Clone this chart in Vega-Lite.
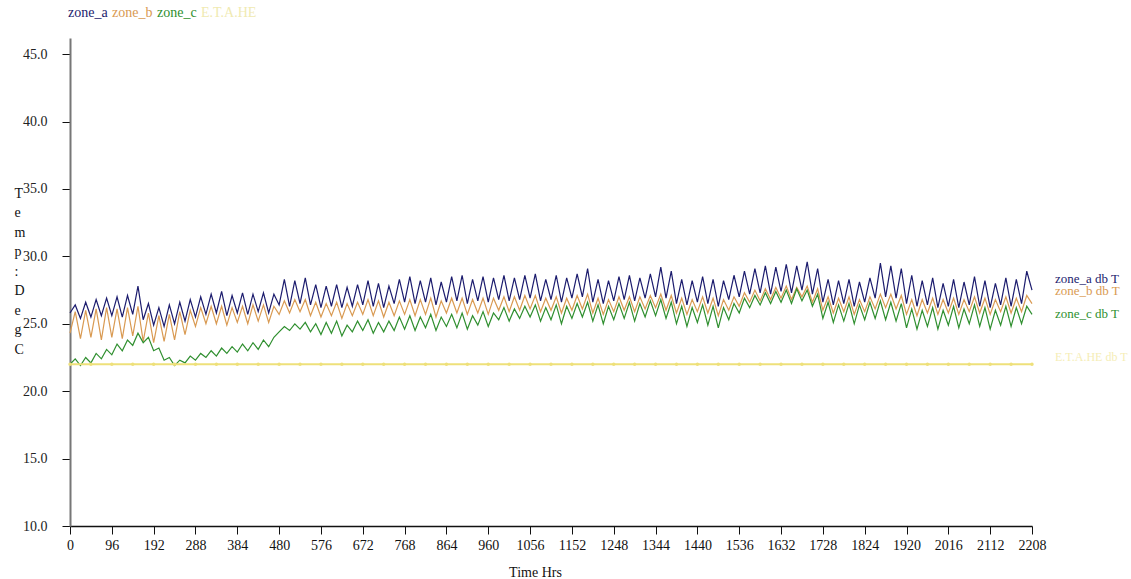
{
"$schema": "https://vega.github.io/schema/vega-lite/v6.json",
"width": 962, "height": 488,
"autosize": {"type": "none"},
"padding": {"left": 70, "top": 38, "right": 99, "bottom": 53},
"background": "white",
"config": {"view": {"stroke": null}, "font": "Liberation Serif"},
"datasets": {
"zones": [
{"t":0,"zone_a":25.8,"zone_b":24.3,"zone_c":22.0},{"t":12,"zone_a":26.4,"zone_b":25.9,"zone_c":22.4},
{"t":24,"zone_a":25.4,"zone_b":23.9,"zone_c":21.9},{"t":36,"zone_a":26.6,"zone_b":26.0,"zone_c":22.5},
{"t":48,"zone_a":25.5,"zone_b":24.0,"zone_c":22.1},{"t":60,"zone_a":26.8,"zone_b":26.1,"zone_c":22.8},
{"t":72,"zone_a":25.6,"zone_b":23.8,"zone_c":22.4},{"t":84,"zone_a":26.9,"zone_b":26.2,"zone_c":23.1},
{"t":96,"zone_a":25.6,"zone_b":24.0,"zone_c":22.7},{"t":108,"zone_a":27.0,"zone_b":26.1,"zone_c":23.5},
{"t":120,"zone_a":25.5,"zone_b":23.9,"zone_c":23.0},{"t":132,"zone_a":27.1,"zone_b":26.2,"zone_c":23.8},
{"t":144,"zone_a":25.7,"zone_b":24.1,"zone_c":23.4},{"t":156,"zone_a":27.8,"zone_b":26.3,"zone_c":24.3},
{"t":168,"zone_a":25.3,"zone_b":23.7,"zone_c":23.6},{"t":180,"zone_a":26.5,"zone_b":25.8,"zone_c":24.0},
{"t":192,"zone_a":24.9,"zone_b":23.6,"zone_c":23.0},{"t":204,"zone_a":26.2,"zone_b":25.6,"zone_c":23.2},
{"t":216,"zone_a":24.8,"zone_b":23.7,"zone_c":22.3},{"t":228,"zone_a":26.4,"zone_b":25.7,"zone_c":22.5},
{"t":240,"zone_a":25.0,"zone_b":23.8,"zone_c":21.9},{"t":252,"zone_a":26.6,"zone_b":25.9,"zone_c":22.3},
{"t":264,"zone_a":25.2,"zone_b":24.2,"zone_c":22.1},{"t":276,"zone_a":26.8,"zone_b":26.0,"zone_c":22.6},
{"t":288,"zone_a":25.5,"zone_b":24.8,"zone_c":22.3},{"t":300,"zone_a":27.0,"zone_b":26.2,"zone_c":22.8},
{"t":312,"zone_a":25.7,"zone_b":25.0,"zone_c":22.5},{"t":324,"zone_a":27.2,"zone_b":26.3,"zone_c":23.0},
{"t":336,"zone_a":25.8,"zone_b":25.0,"zone_c":22.6},{"t":348,"zone_a":27.4,"zone_b":26.3,"zone_c":23.2},
{"t":360,"zone_a":25.6,"zone_b":24.9,"zone_c":22.8},{"t":372,"zone_a":27.1,"zone_b":26.2,"zone_c":23.3},
{"t":384,"zone_a":25.8,"zone_b":25.1,"zone_c":22.9},{"t":396,"zone_a":27.3,"zone_b":26.3,"zone_c":23.5},
{"t":408,"zone_a":25.7,"zone_b":25.0,"zone_c":23.0},{"t":420,"zone_a":27.2,"zone_b":26.4,"zone_c":23.6},
{"t":432,"zone_a":25.9,"zone_b":25.2,"zone_c":23.1},{"t":444,"zone_a":27.3,"zone_b":26.4,"zone_c":23.8},
{"t":456,"zone_a":25.8,"zone_b":25.1,"zone_c":23.3},{"t":468,"zone_a":27.2,"zone_b":26.3,"zone_c":24.0},
{"t":480,"zone_a":26.4,"zone_b":25.7,"zone_c":24.4},{"t":492,"zone_a":28.3,"zone_b":26.7,"zone_c":24.8},
{"t":504,"zone_a":26.3,"zone_b":25.8,"zone_c":24.5},{"t":516,"zone_a":28.2,"zone_b":26.8,"zone_c":25.0},
{"t":528,"zone_a":26.5,"zone_b":25.9,"zone_c":24.6},{"t":540,"zone_a":28.4,"zone_b":26.8,"zone_c":25.1},
{"t":552,"zone_a":26.4,"zone_b":25.6,"zone_c":24.4},{"t":564,"zone_a":27.9,"zone_b":26.6,"zone_c":25.0},
{"t":576,"zone_a":26.2,"zone_b":25.5,"zone_c":24.2},{"t":588,"zone_a":27.8,"zone_b":26.5,"zone_c":25.1},
{"t":600,"zone_a":26.3,"zone_b":25.6,"zone_c":24.3},{"t":612,"zone_a":27.9,"zone_b":26.6,"zone_c":25.2},
{"t":624,"zone_a":26.2,"zone_b":25.4,"zone_c":24.1},{"t":636,"zone_a":27.7,"zone_b":26.5,"zone_c":24.9},
{"t":648,"zone_a":26.3,"zone_b":25.6,"zone_c":24.4},{"t":660,"zone_a":27.9,"zone_b":26.6,"zone_c":25.2},
{"t":672,"zone_a":26.4,"zone_b":25.7,"zone_c":24.5},{"t":684,"zone_a":28.2,"zone_b":26.8,"zone_c":25.3},
{"t":696,"zone_a":26.3,"zone_b":25.6,"zone_c":24.3},{"t":708,"zone_a":28.0,"zone_b":26.7,"zone_c":25.1},
{"t":720,"zone_a":26.2,"zone_b":25.5,"zone_c":24.4},{"t":732,"zone_a":27.8,"zone_b":26.6,"zone_c":25.2},
{"t":744,"zone_a":26.5,"zone_b":25.6,"zone_c":24.5},{"t":756,"zone_a":28.3,"zone_b":26.7,"zone_c":25.5},
{"t":768,"zone_a":26.6,"zone_b":25.7,"zone_c":24.6},{"t":780,"zone_a":28.5,"zone_b":26.8,"zone_c":25.6},
{"t":792,"zone_a":26.5,"zone_b":25.6,"zone_c":24.5},{"t":804,"zone_a":28.2,"zone_b":26.8,"zone_c":25.5},
{"t":816,"zone_a":26.6,"zone_b":25.7,"zone_c":24.7},{"t":828,"zone_a":28.4,"zone_b":26.9,"zone_c":25.7},
{"t":840,"zone_a":26.4,"zone_b":25.5,"zone_c":24.5},{"t":852,"zone_a":28.1,"zone_b":26.7,"zone_c":25.5},
{"t":864,"zone_a":26.6,"zone_b":25.8,"zone_c":24.8},{"t":876,"zone_a":28.5,"zone_b":26.9,"zone_c":25.7},
{"t":888,"zone_a":26.7,"zone_b":25.8,"zone_c":24.7},{"t":900,"zone_a":28.6,"zone_b":26.9,"zone_c":25.8},
{"t":912,"zone_a":26.5,"zone_b":25.7,"zone_c":24.6},{"t":924,"zone_a":28.3,"zone_b":26.8,"zone_c":25.6},
{"t":936,"zone_a":26.7,"zone_b":25.8,"zone_c":24.9},{"t":948,"zone_a":28.5,"zone_b":26.9,"zone_c":25.9},
{"t":960,"zone_a":26.6,"zone_b":25.7,"zone_c":24.8},{"t":972,"zone_a":28.4,"zone_b":26.9,"zone_c":25.8},
{"t":984,"zone_a":26.8,"zone_b":26.0,"zone_c":25.3},{"t":996,"zone_a":28.6,"zone_b":27.0,"zone_c":26.2},
{"t":1008,"zone_a":26.7,"zone_b":25.9,"zone_c":25.2},{"t":1020,"zone_a":28.4,"zone_b":27.0,"zone_c":26.1},
{"t":1032,"zone_a":26.8,"zone_b":26.0,"zone_c":25.4},{"t":1044,"zone_a":28.6,"zone_b":27.1,"zone_c":26.3},
{"t":1056,"zone_a":26.9,"zone_b":26.1,"zone_c":25.5},{"t":1068,"zone_a":28.7,"zone_b":27.1,"zone_c":26.4},
{"t":1080,"zone_a":26.7,"zone_b":25.9,"zone_c":25.2},{"t":1092,"zone_a":28.3,"zone_b":26.9,"zone_c":26.2},
{"t":1104,"zone_a":26.8,"zone_b":26.0,"zone_c":25.3},{"t":1116,"zone_a":28.6,"zone_b":27.0,"zone_c":26.4},
{"t":1128,"zone_a":26.6,"zone_b":25.8,"zone_c":25.0},{"t":1140,"zone_a":28.4,"zone_b":26.9,"zone_c":26.3},
{"t":1152,"zone_a":26.9,"zone_b":26.0,"zone_c":25.4},{"t":1164,"zone_a":28.7,"zone_b":27.1,"zone_c":26.5},
{"t":1176,"zone_a":27.0,"zone_b":26.1,"zone_c":25.5},{"t":1188,"zone_a":29.1,"zone_b":27.2,"zone_c":26.6},
{"t":1200,"zone_a":26.6,"zone_b":25.8,"zone_c":25.2},{"t":1212,"zone_a":28.3,"zone_b":26.9,"zone_c":26.4},
{"t":1224,"zone_a":26.5,"zone_b":25.7,"zone_c":25.0},{"t":1236,"zone_a":28.2,"zone_b":26.8,"zone_c":26.3},
{"t":1248,"zone_a":26.7,"zone_b":25.9,"zone_c":25.3},{"t":1260,"zone_a":28.5,"zone_b":27.0,"zone_c":26.5},
{"t":1272,"zone_a":26.8,"zone_b":26.0,"zone_c":25.4},{"t":1284,"zone_a":28.6,"zone_b":27.0,"zone_c":26.6},
{"t":1296,"zone_a":26.7,"zone_b":25.9,"zone_c":25.2},{"t":1308,"zone_a":28.4,"zone_b":27.0,"zone_c":26.5},
{"t":1320,"zone_a":26.9,"zone_b":26.1,"zone_c":25.5},{"t":1332,"zone_a":28.7,"zone_b":27.1,"zone_c":26.7},
{"t":1344,"zone_a":27.0,"zone_b":26.2,"zone_c":25.6},{"t":1356,"zone_a":29.2,"zone_b":27.2,"zone_c":26.8},
{"t":1368,"zone_a":26.9,"zone_b":26.0,"zone_c":25.4},{"t":1380,"zone_a":28.9,"zone_b":27.1,"zone_c":26.6},
{"t":1392,"zone_a":26.5,"zone_b":25.8,"zone_c":25.0},{"t":1404,"zone_a":28.3,"zone_b":26.9,"zone_c":26.3},
{"t":1416,"zone_a":26.4,"zone_b":25.7,"zone_c":24.8},{"t":1428,"zone_a":28.2,"zone_b":26.8,"zone_c":26.2},
{"t":1440,"zone_a":26.6,"zone_b":25.9,"zone_c":25.1},{"t":1452,"zone_a":28.5,"zone_b":27.0,"zone_c":26.4},
{"t":1464,"zone_a":26.5,"zone_b":25.8,"zone_c":24.9},{"t":1476,"zone_a":28.3,"zone_b":26.9,"zone_c":26.3},
{"t":1488,"zone_a":26.3,"zone_b":25.6,"zone_c":24.7},{"t":1500,"zone_a":28.2,"zone_b":26.8,"zone_c":26.2},
{"t":1512,"zone_a":26.8,"zone_b":26.0,"zone_c":25.3},{"t":1524,"zone_a":28.6,"zone_b":27.0,"zone_c":26.5},
{"t":1536,"zone_a":27.0,"zone_b":26.3,"zone_c":25.8},{"t":1548,"zone_a":28.9,"zone_b":27.3,"zone_c":26.9},
{"t":1560,"zone_a":27.2,"zone_b":26.6,"zone_c":26.2},{"t":1572,"zone_a":29.1,"zone_b":27.5,"zone_c":27.1},
{"t":1584,"zone_a":27.3,"zone_b":26.7,"zone_c":26.4},{"t":1596,"zone_a":29.3,"zone_b":27.6,"zone_c":27.3},
{"t":1608,"zone_a":27.2,"zone_b":26.8,"zone_c":26.5},{"t":1620,"zone_a":29.2,"zone_b":27.7,"zone_c":27.4},
{"t":1632,"zone_a":27.4,"zone_b":26.9,"zone_c":26.6},{"t":1644,"zone_a":29.4,"zone_b":27.8,"zone_c":27.5},
{"t":1656,"zone_a":27.3,"zone_b":26.8,"zone_c":26.5},{"t":1668,"zone_a":29.3,"zone_b":27.7,"zone_c":27.6},
{"t":1680,"zone_a":27.5,"zone_b":27.0,"zone_c":26.7},{"t":1692,"zone_a":29.6,"zone_b":27.8,"zone_c":27.5},
{"t":1704,"zone_a":27.2,"zone_b":26.6,"zone_c":26.3},{"t":1716,"zone_a":29.1,"zone_b":27.6,"zone_c":27.2},
{"t":1728,"zone_a":26.6,"zone_b":26.0,"zone_c":25.4},{"t":1740,"zone_a":28.3,"zone_b":27.0,"zone_c":26.6},
{"t":1752,"zone_a":26.4,"zone_b":25.8,"zone_c":25.1},{"t":1764,"zone_a":28.2,"zone_b":26.9,"zone_c":26.4},
{"t":1776,"zone_a":26.5,"zone_b":25.9,"zone_c":25.2},{"t":1788,"zone_a":28.3,"zone_b":27.0,"zone_c":26.5},
{"t":1800,"zone_a":26.3,"zone_b":25.7,"zone_c":25.0},{"t":1812,"zone_a":28.1,"zone_b":26.8,"zone_c":26.4},
{"t":1824,"zone_a":26.6,"zone_b":25.9,"zone_c":25.3},{"t":1836,"zone_a":28.4,"zone_b":27.0,"zone_c":26.6},
{"t":1848,"zone_a":26.9,"zone_b":26.1,"zone_c":25.4},{"t":1860,"zone_a":29.5,"zone_b":27.2,"zone_c":26.7},
{"t":1872,"zone_a":27.0,"zone_b":26.2,"zone_c":25.3},{"t":1884,"zone_a":29.3,"zone_b":27.2,"zone_c":26.6},
{"t":1896,"zone_a":26.9,"zone_b":26.1,"zone_c":25.2},{"t":1908,"zone_a":29.1,"zone_b":27.1,"zone_c":26.5},
{"t":1920,"zone_a":26.5,"zone_b":25.7,"zone_c":24.7},{"t":1932,"zone_a":28.6,"zone_b":26.8,"zone_c":26.1},
{"t":1944,"zone_a":26.3,"zone_b":25.6,"zone_c":24.6},{"t":1956,"zone_a":28.2,"zone_b":26.8,"zone_c":26.0},
{"t":1968,"zone_a":26.4,"zone_b":25.8,"zone_c":24.8},{"t":1980,"zone_a":28.4,"zone_b":26.9,"zone_c":26.2},
{"t":1992,"zone_a":26.2,"zone_b":25.7,"zone_c":24.6},{"t":2004,"zone_a":28.0,"zone_b":26.8,"zone_c":26.0},
{"t":2016,"zone_a":26.3,"zone_b":25.8,"zone_c":24.9},{"t":2028,"zone_a":28.3,"zone_b":26.9,"zone_c":26.3},
{"t":2040,"zone_a":26.2,"zone_b":25.7,"zone_c":24.7},{"t":2052,"zone_a":28.1,"zone_b":26.8,"zone_c":26.1},
{"t":2064,"zone_a":26.4,"zone_b":25.9,"zone_c":25.0},{"t":2076,"zone_a":28.5,"zone_b":27.0,"zone_c":26.4},
{"t":2088,"zone_a":26.3,"zone_b":25.8,"zone_c":24.8},{"t":2100,"zone_a":28.2,"zone_b":26.9,"zone_c":26.2},
{"t":2112,"zone_a":26.2,"zone_b":25.7,"zone_c":24.6},{"t":2124,"zone_a":28.0,"zone_b":26.8,"zone_c":26.0},
{"t":2136,"zone_a":26.4,"zone_b":25.9,"zone_c":24.9},{"t":2148,"zone_a":28.4,"zone_b":27.0,"zone_c":26.3},
{"t":2160,"zone_a":26.3,"zone_b":25.8,"zone_c":24.8},{"t":2172,"zone_a":28.3,"zone_b":26.9,"zone_c":26.2},
{"t":2184,"zone_a":26.5,"zone_b":25.9,"zone_c":25.0},{"t":2196,"zone_a":28.9,"zone_b":27.1,"zone_c":26.3},
{"t":2208,"zone_a":27.5,"zone_b":26.5,"zone_c":25.7}
],
"eta": [
{"t":0,"temp":22,"series":"E.T.A.HE"},{"t":48,"temp":22,"series":"E.T.A.HE"},{"t":96,"temp":22,"series":"E.T.A.HE"},{"t":144,"temp":22,"series":"E.T.A.HE"},
{"t":192,"temp":22,"series":"E.T.A.HE"},{"t":240,"temp":22,"series":"E.T.A.HE"},{"t":288,"temp":22,"series":"E.T.A.HE"},{"t":336,"temp":22,"series":"E.T.A.HE"},
{"t":384,"temp":22,"series":"E.T.A.HE"},{"t":432,"temp":22,"series":"E.T.A.HE"},{"t":480,"temp":22,"series":"E.T.A.HE"},{"t":528,"temp":22,"series":"E.T.A.HE"},
{"t":576,"temp":22,"series":"E.T.A.HE"},{"t":624,"temp":22,"series":"E.T.A.HE"},{"t":672,"temp":22,"series":"E.T.A.HE"},{"t":720,"temp":22,"series":"E.T.A.HE"},
{"t":768,"temp":22,"series":"E.T.A.HE"},{"t":816,"temp":22,"series":"E.T.A.HE"},{"t":864,"temp":22,"series":"E.T.A.HE"},{"t":912,"temp":22,"series":"E.T.A.HE"},
{"t":960,"temp":22,"series":"E.T.A.HE"},{"t":1008,"temp":22,"series":"E.T.A.HE"},{"t":1056,"temp":22,"series":"E.T.A.HE"},{"t":1104,"temp":22,"series":"E.T.A.HE"},
{"t":1152,"temp":22,"series":"E.T.A.HE"},{"t":1200,"temp":22,"series":"E.T.A.HE"},{"t":1248,"temp":22,"series":"E.T.A.HE"},{"t":1296,"temp":22,"series":"E.T.A.HE"},
{"t":1344,"temp":22,"series":"E.T.A.HE"},{"t":1392,"temp":22,"series":"E.T.A.HE"},{"t":1440,"temp":22,"series":"E.T.A.HE"},{"t":1488,"temp":22,"series":"E.T.A.HE"},
{"t":1536,"temp":22,"series":"E.T.A.HE"},{"t":1584,"temp":22,"series":"E.T.A.HE"},{"t":1632,"temp":22,"series":"E.T.A.HE"},{"t":1680,"temp":22,"series":"E.T.A.HE"},
{"t":1728,"temp":22,"series":"E.T.A.HE"},{"t":1776,"temp":22,"series":"E.T.A.HE"},{"t":1824,"temp":22,"series":"E.T.A.HE"},{"t":1872,"temp":22,"series":"E.T.A.HE"},
{"t":1920,"temp":22,"series":"E.T.A.HE"},{"t":1968,"temp":22,"series":"E.T.A.HE"},{"t":2016,"temp":22,"series":"E.T.A.HE"},{"t":2064,"temp":22,"series":"E.T.A.HE"},
{"t":2112,"temp":22,"series":"E.T.A.HE"},{"t":2160,"temp":22,"series":"E.T.A.HE"},{"t":2208,"temp":22,"series":"E.T.A.HE"}
],
"labels": [
{"series":"zone_a","label":"zone_a db T","t":2208,"v":28.35},
{"series":"zone_b","label":"zone_b db T","t":2208,"v":27.4},
{"series":"zone_c","label":"zone_c db T","t":2208,"v":25.75},
{"series":"E.T.A.HE","label":"E.T.A.HE db T","t":2208,"v":22.55}
]
},
"layer": [
{
"data": {"name": "zones"},
"transform": [{"fold": ["zone_a", "zone_b", "zone_c"], "as": ["series", "temp"]}],
"mark": {"type": "line", "strokeWidth": 1.2},
"encoding": {
"x": {"field": "t", "type": "quantitative", "scale": {"domain": [0, 2208], "nice": false, "zero": false},
"axis": {"values": [0,48,96,144,192,240,288,336,384,432,480,528,576,624,672,720,768,816,864,912,960,1008,1056,1104,1152,1200,1248,1296,1344,1392,1440,1488,1536,1584,1632,1680,1728,1776,1824,1872,1920,1968,2016,2064,2112,2160,2208],
"labelExpr": "datum.value % 96 === 0 ? datum.label : ''", "format": "d",
"title": "Time Hrs", "titleFont": "Liberation Serif", "titleFontSize": 14, "titleFontWeight": "normal", "titleColor": "#111",
"titleX": 465, "titleY": 46, "titleAlign": "center", "titleBaseline": "middle",
"labelFont": "Liberation Serif", "labelFontSize": 14, "labelColor": "#111", "labelPadding": 4, "labelFlush": false, "labelOverlap": false,
"tickSize": 8, "tickColor": "#111", "domainColor": "#111", "domainWidth": 1.5, "grid": false}},
"y": {"field": "temp", "type": "quantitative", "scale": {"domain": [10, 46.2], "nice": false, "zero": false},
"axis": {"values": [10,15,20,25,30,35,40,45], "format": ".1f",
"title": ["T","e","m","p",":"," ","D","e","g","C"], "titleAngle": 0, "titleX": -56, "titleY": 148,
"titleAlign": "left", "titleBaseline": "top", "titleLineHeight": 19.5,
"titleFont": "Liberation Serif", "titleFontSize": 14, "titleFontWeight": "normal", "titleColor": "#111",
"labelFont": "Liberation Serif", "labelFontSize": 14, "labelColor": "#222", "labelPadding": 15,
"tickSize": 8, "tickColor": "#111", "domainColor": "#777", "domainWidth": 2, "grid": false}},
"color": {"field": "series", "type": "nominal",
"scale": {"domain": ["zone_a", "zone_b", "zone_c", "E.T.A.HE"], "range": ["#1c1c6e", "#d99a52", "#2f8f2f", "#eee07a"]},
"legend": {"orient": "none", "legendX": -2, "legendY": -32, "direction": "horizontal", "title": null,
"symbolSize": 0.01, "symbolOpacity": 0, "symbolStrokeWidth": 0.01, "labelOffset": -14, "columnPadding": 4, "padding": 0,
"labelFont": "Liberation Serif", "labelFontSize": 14,
"encode": {"labels": {"update": {"fill": [{"test": "datum.value === 'E.T.A.HE'", "value": "#f0eab2"}, {"scale": "color", "field": "value"}]}}}}}
}
},
{
"data": {"name": "eta"},
"mark": {"type": "line", "strokeWidth": 2, "point": {"filled": true, "size": 12, "color": "#e6d65e"}},
"encoding": {
"x": {"field": "t", "type": "quantitative"},
"y": {"field": "temp", "type": "quantitative"},
"color": {"field": "series", "type": "nominal"}
}
},
{
"data": {"name": "labels"},
"mark": {"type": "text", "align": "left", "baseline": "middle", "dx": 23, "font": "Liberation Serif"},
"encoding": {
"x": {"field": "t", "type": "quantitative"},
"y": {"field": "v", "type": "quantitative"},
"text": {"field": "label"},
"color": {"field": "series", "type": "nominal"},
"size": {"condition": {"test": "datum.series === 'E.T.A.HE'", "value": 12}, "value": 13},
"opacity": {"condition": {"test": "datum.series === 'E.T.A.HE'", "value": 0.55}, "value": 1}
}
}
]
}
